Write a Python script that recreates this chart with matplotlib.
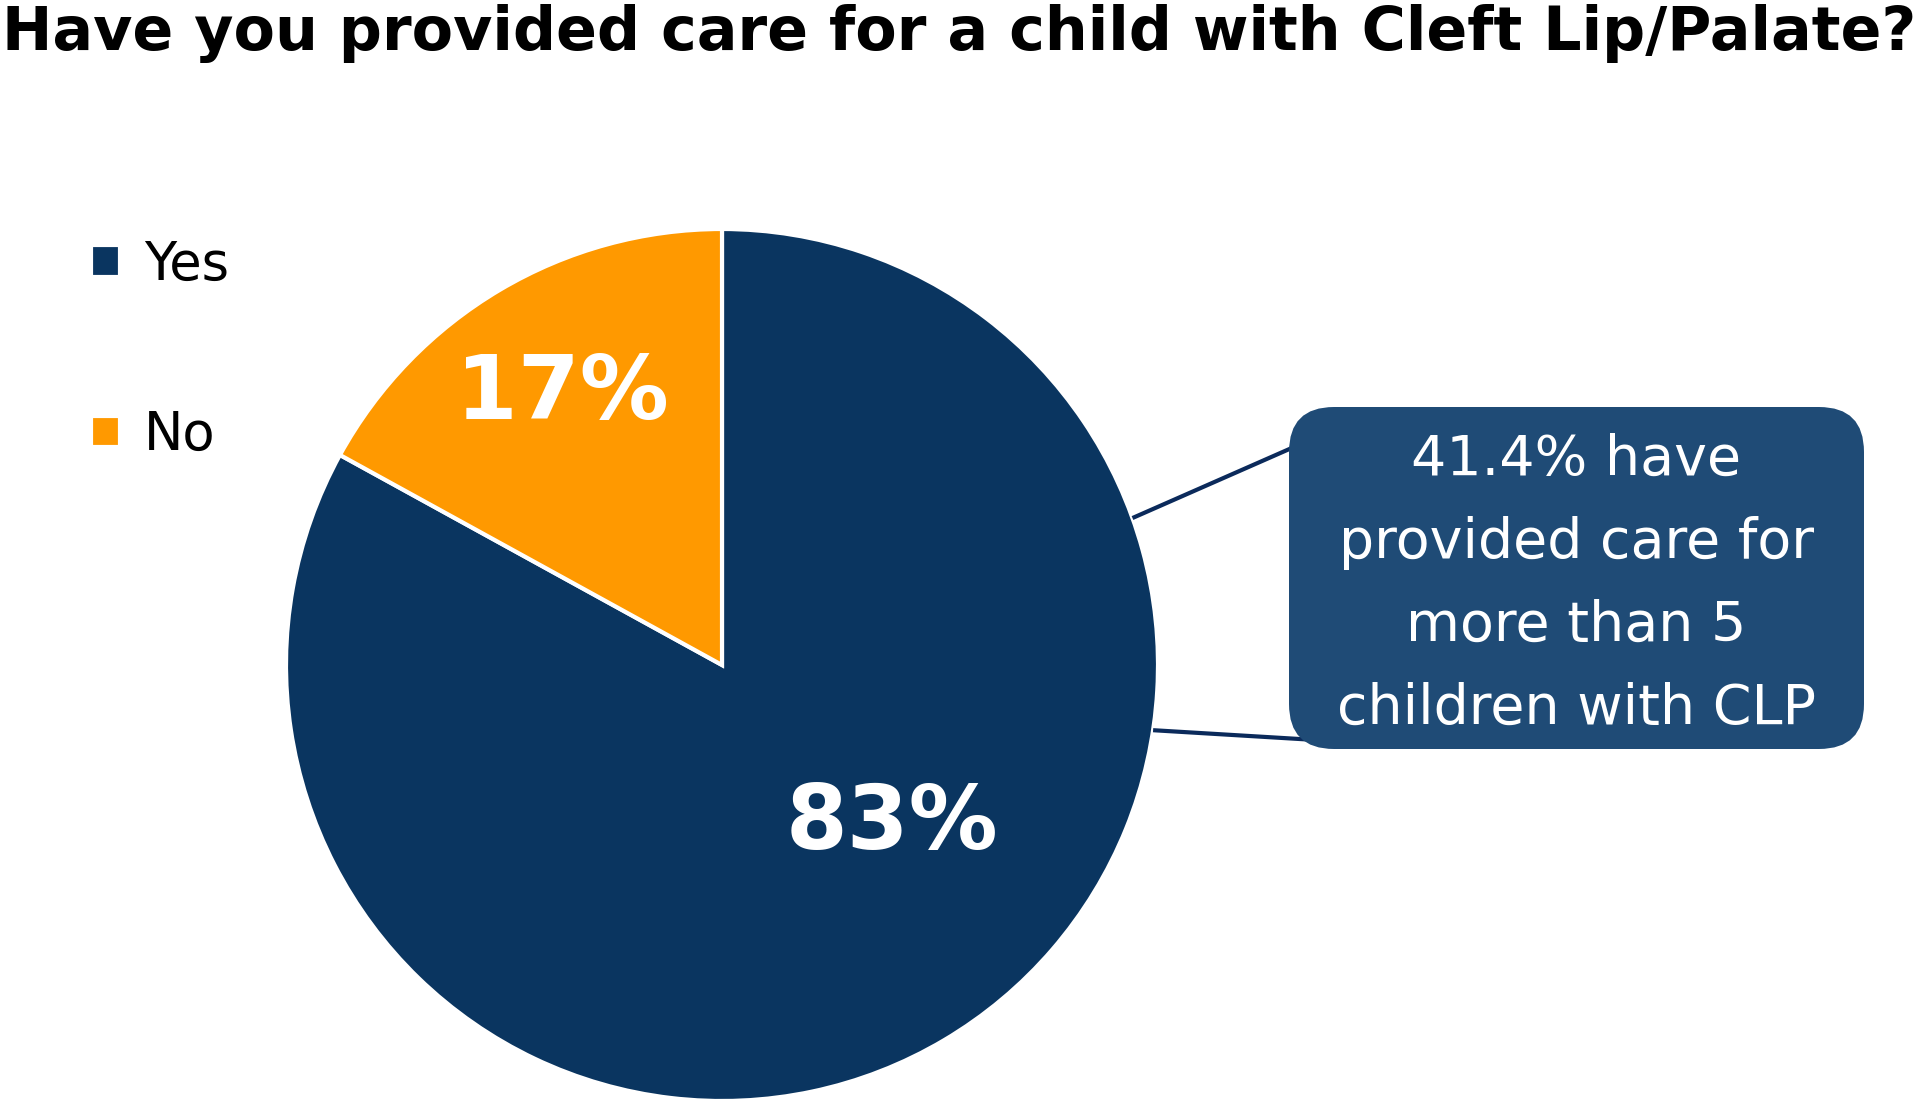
import numpy as np
import matplotlib
matplotlib.use("Agg")
import matplotlib.pyplot as plt
from matplotlib.patches import FancyBboxPatch

# Dane wykresu
labels = ["Yes", "No"]
values = [83, 17]
colors = ["#0A3560", "#FF9900"]
title = "Have you provided care for a child with Cleft Lip/Palate?"
callout = "41.4% have\nprovided care for\nmore than 5\nchildren with CLP"

W, H = 1920, 1102

fig = plt.figure(figsize=(W / 100, H / 100), dpi=100)
ax = fig.add_axes([0, 0, 1, 1])

cx, cy, r = 722, H - 665, 436

wedges, _, pcts = ax.pie(values, colors=colors, startangle=90, counterclock=False,
                         center=(cx, cy), radius=r,
                         wedgeprops=dict(edgecolor="white", linewidth=3),
                         autopct="%d%%", pctdistance=0.72,
                         textprops=dict(color="white", fontsize=64, fontweight="bold",
                                        family="DejaVu Sans"))
# 83% przesunięte niżej w prawo
a = np.deg2rad(-43.3)
pcts[0].set_position((cx + 0.535 * r * np.cos(a), cy + 0.535 * r * np.sin(a)))
pcts[0].set_fontsize(64)
pcts[0].set_ha("center")
pcts[0].set_va("center")

ax.set_xlim(0, W)
ax.set_ylim(0, H)
ax.set_aspect("equal")
ax.axis("off")

# Ramka z komentarzem
bx0, by0, bx1, by1 = 1289, H - 749, 1864, H - 407
box = FancyBboxPatch((bx0, by0), bx1 - bx0, by1 - by0,
                     boxstyle="round,pad=0,rounding_size=45",
                     facecolor="#1F4B76", edgecolor="none", zorder=3)
ax.add_patch(box)

# Linie łączące
for ang, end in [(19.7, (1294, H - 447)), (-8.6, (1316, H - 740))]:
    t = np.deg2rad(ang)
    ax.plot([cx + r * np.cos(t), end[0]], [cy + r * np.sin(t), end[1]],
            color="#0B2A5B", linewidth=3, zorder=2, solid_capstyle="butt")

ax.text((bx0 + bx1) / 2, (by0 + by1) / 2 - 6, callout, color="white", fontsize=40,
        ha="center", va="center", linespacing=1.69, zorder=4, family="DejaVu Sans")

# Legenda
ax.legend(wedges, labels, loc="upper left", bbox_to_anchor=(91 / W, 1 - 239 / H),
          frameon=False, fontsize=38, handlelength=0.55, handleheight=0.55,
          handletextpad=0.45, labelspacing=2.24, borderpad=0, borderaxespad=0)

# Tytuł dopasowany do szerokości
t = fig.text(2 / W, 1 - 4 / H, title, ha="left", va="top", fontsize=40,
             fontweight="bold", family="DejaVu Sans", color="black")
fig.canvas.draw()
w = t.get_window_extent().width
t.set_fontsize(40 * 1912 / w)

fig.savefig("out.png", dpi=100)
